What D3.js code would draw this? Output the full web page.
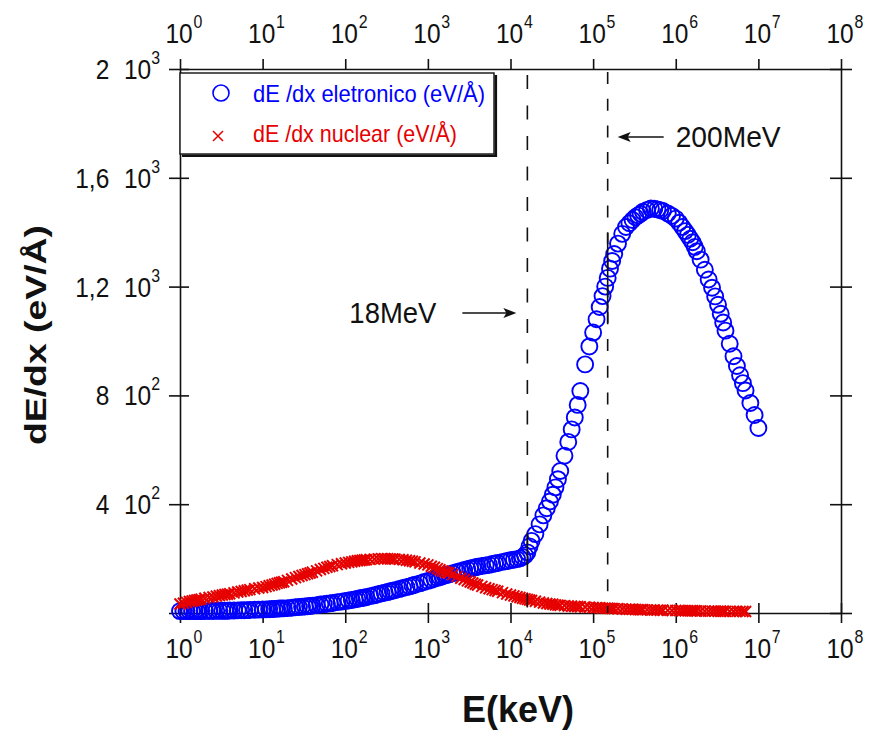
<!DOCTYPE html>
<html>
<head>
<meta charset="utf-8">
<script src="https://cdn.jsdelivr.net/npm/d3@7"></script>
<style>
  html, body { margin: 0; padding: 0; background: #ffffff; }
  svg { display: block; }
  text { font-family: "Liberation Sans", Arial, Helvetica, sans-serif; }
</style>
</head>
<body>
<svg id="chart" width="871" height="734"></svg>
<script>
// ---------------- data ----------------
// energy grid (keV)
const energyKeV = [
  1,1.1,1.2,1.3,1.4,1.5,1.6,1.7,1.8,2,2.25,2.5,2.75,3,3.25,3.5,3.75,4,4.5,5,5.5,6,6.5,7,8,9,
  10,11,12,13,14,15,16,17,18,20,22.5,25,27.5,30,32.5,35,37.5,40,45,50,55,60,65,70,80,90,
  100,110,120,130,140,150,160,170,180,200,225,250,275,300,325,350,375,400,450,500,550,600,650,700,800,900,
  1e3,1.1e3,1.2e3,1.3e3,1.4e3,1.5e3,1.6e3,1.7e3,1.8e3,2e3,2.25e3,2.5e3,2.75e3,3e3,3.25e3,3.5e3,3.75e3,4e3,4.5e3,5e3,5.5e3,6e3,6.5e3,7e3,8e3,9e3,
  1e4,1.1e4,1.2e4,1.3e4,1.4e4,1.5e4,1.6e4,1.7e4,1.8e4,2e4,2.25e4,2.5e4,2.75e4,3e4,3.25e4,3.5e4,3.75e4,4e4,4.5e4,5e4,5.5e4,6e4,6.5e4,7e4,8e4,9e4,
  1e5,1.1e5,1.2e5,1.3e5,1.4e5,1.5e5,1.6e5,1.7e5,1.8e5,2e5,2.25e5,2.5e5,2.75e5,3e5,3.25e5,3.5e5,3.75e5,4e5,4.5e5,5e5,5.5e5,6e5,6.5e5,7e5,8e5,9e5,
  1e6,1.1e6,1.2e6,1.3e6,1.4e6,1.5e6,1.6e6,1.7e6,1.8e6,2e6,2.25e6,2.5e6,2.75e6,3e6,3.25e6,3.5e6,3.75e6,4e6,4.5e6,5e6,5.5e6,6e6,6.5e6,7e6,8e6,9e6,
  1e7
];

// electronic stopping dE/dx (eV/Å)
const dEdxElectronic = [
  7,7,7,7,7,7,7,7,7,7,7.5,7.5,8,8,8,8,8.5,9,9,9.5,10,10,10.5,11,12,12.5,
  13,13.5,14,14.5,15,16,16.5,17,17,18,19.5,21,22,23,24,25,26,27,29,31,32.5,34,35.5,37,40,42,
  44,46,48,50,52,54,55,57,58,62,65,69,72,75,77,80,82,84,88,92,95,98,101,104,109,114,
  118,122,126,129,132,135,138,140,142,146,151,155,158,161,164,166,168,170,173,175,177,180,182,184,188,191,
  194,196,198,201,206,212,223,245,265,290,326,359,385,410,435,462,492,522,578,629,675,719,765,816,914,980,
  1031,1080,1125,1165,1200,1232,1266,1294,1320,1358,1394,1419,1433,1445,1455,1462,1468,1475,1482,1487,1486,1484,1481,1478,1469,1460,
  1450,1435,1419,1404,1390,1376,1363,1346,1330,1299,1262,1226,1196,1164,1133,1100,1068,1038,990,944,908,874,845,818,772,728,
  680
];

// nuclear stopping dE/dx (eV/Å), energies from 1 keV to 7e6 keV
const dEdxNuclear = [
  33,36,39,42,44,46,48,49,51,54,57,59,62,64,66,68,69,71,74,77,79,82,84,86,89,92,
  94,97,100,103,106,109,111,113,115,120,125,130,134,138,141,144,147,150,155,160,164,168,171,174,178,181,
  184,186,188,190,192,193,194,195,196,197,198,199,200,200,200,199,199,198,197,196,194,192,190,188,184,180,
  177,172,168,163,159,155,152,149,147,141,134,128,123,118,114,110,106,103,98,93,89,86,83,80,75,70,
  66,63,60,57,54,52,50,48,46,43,40,37,35,33,32,30,29,28,27,26,25,24,24,23,22,21,
  20,19.5,19,18,18,17.5,17,16.5,16,15.5,15,14,14,13.5,13,12.5,12,12,11.5,11,11,10.5,10,10,9.5,9,
  9,9,8.5,8.5,8,8,8,8,7.5,7.5,7,7,7,7,6.5,6.5,6.5,6,6,6,6,6,5.5,5.5
];

// axis ticks
const xTickValues = [1,1e1,1e2,1e3,1e4,1e5,1e6,1e7,1e8];
const xTickExponents = ["0","1","2","3","4","5","6","7","8"];
const yTickValues = [0,400,800,1200,1600,2000];
const yTickMantissas = ["","4","8","1,2","1,6","2"];
const yTickExponents = ["","2","2","3","3","3"];

// legend & titles
const seriesNames = ["dE /dx eletronico (eV/\u00C5)", "dE /dx nuclear (eV/\u00C5)"];
const yTitle = "dE/dx (eV/\u00C5)";
const xTitle = "E(keV)";

// marker lines (energy in keV), their labels and the level of the arrow (eV/Å)
const markerEnergies = [1.6e4, 1.5e5];
const markerLabels = ["18MeV", "200MeV"];
const markerArrowLevels = [1103, 1750];
const markerSolidFrom = [176, 1066];
const markerSolidTo = [283, 1397];

// ---------------- chart ----------------
const svg = d3.select("#chart");
const BLUE = "#0000ff", RED = "#e60000", INK = "#111111";

const x = d3.scaleLog().domain([1, 1e8]).range([180, 841]);
const y = d3.scaleLinear().domain([0, 2000]).range([613, 69]);
const X0 = x.range()[0], X1 = x.range()[1], Y0 = y.range()[0], Y1 = y.range()[1];

function styleAxis(g) {
  g.select(".domain").attr("stroke", INK).attr("stroke-width", 1.6);
  g.selectAll(".tick line").attr("stroke", INK).attr("stroke-width", 1.6);
  g.selectAll(".tick text").remove();
}

// bottom axis (ticks crossing)
const gB = svg.append("g").attr("transform", `translate(0,${Y0})`)
  .call(d3.axisBottom(x).tickValues(xTickValues).tickSize(10).tickSizeOuter(0).tickFormat(() => ""));
styleAxis(gB);
gB.selectAll(".tick line").attr("y1", -10);

// top axis (outward ticks)
const gT = svg.append("g").attr("transform", `translate(0,${Y1})`)
  .call(d3.axisTop(x).tickValues(xTickValues).tickSize(10).tickSizeOuter(0).tickFormat(() => ""));
styleAxis(gT);

// left axis (ticks crossing)
const gL = svg.append("g").attr("transform", `translate(${X0},0)`)
  .call(d3.axisLeft(y).tickValues(yTickValues).tickSize(11).tickSizeOuter(0).tickFormat(() => ""));
styleAxis(gL);
gL.selectAll(".tick line").attr("x1", 9);

// right axis (ticks crossing)
const gR = svg.append("g").attr("transform", `translate(${X1},0)`)
  .call(d3.axisRight(y).tickValues(yTickValues).tickSize(11).tickSizeOuter(0).tickFormat(() => ""));
styleAxis(gR);
gR.selectAll(".tick line").attr("x1", -11);

// power-of-ten tick labels (narrow glyphs)
const SX = 0.86, FS = 28.5, FSUP = 18.5;
function xPowLabel(px, baseline, exp) {
  const g = svg.append("g").attr("transform", `translate(${px - 1},${baseline}) scale(${SX},1)`);
  const t = g.append("text").attr("x", -0.556 * FS).attr("font-size", FS).attr("fill", INK);
  t.append("tspan").text("10");
  t.append("tspan").attr("dx", 1).attr("dy", -15).attr("font-size", FSUP).text(exp);
}
xTickValues.forEach((v, i) => {
  xPowLabel(x(v), 43, xTickExponents[i]);
  xPowLabel(x(v), 658, xTickExponents[i]);
});

yTickValues.forEach((v, i) => {
  if (!yTickMantissas[i]) return;
  const g = svg.append("g").attr("transform", `translate(160,${y(v) + 10}) scale(${SX},1)`);
  const t = g.append("text").attr("text-anchor", "end").attr("font-size", FS).attr("fill", INK);
  t.append("tspan").text(yTickMantissas[i]);
  t.append("tspan").attr("dx", 17).text("10");
  t.append("tspan").attr("dy", -15).attr("font-size", FSUP).text(yTickExponents[i]);
});

// data: electronic (open circles)
const elec = energyKeV.map((e, i) => ({ e, v: dEdxElectronic[i] }));
const nuc = dEdxNuclear.map((v, i) => ({ e: energyKeV[i], v }));

svg.append("g").selectAll("circle").data(elec).join("circle")
  .attr("cx", d => x(d.e)).attr("cy", d => y(d.v)).attr("r", 8)
  .attr("fill", "none").attr("stroke", BLUE).attr("stroke-width", 1.9);

// data: nuclear (x crosses)
const crossPath = (cx, cy, s) => `M${cx - s},${cy - s}L${cx + s},${cy + s}M${cx - s},${cy + s}L${cx + s},${cy - s}`;
svg.append("g").selectAll("path").data(nuc).join("path")
  .attr("d", d => crossPath(x(d.e), y(d.v), 5.5))
  .attr("fill", "none").attr("stroke", RED).attr("stroke-width", 2);

// marker lines
const dashSpec = [{ arr: "14,16.5", off: 25.5 }, { arr: "12,14.7", off: 24.7 }];
markerEnergies.forEach((E, i) => {
  const xm = x(E);
  svg.append("line").attr("x1", xm).attr("x2", xm).attr("y1", Y1 + 1).attr("y2", Y0)
    .attr("stroke", INK).attr("stroke-width", 1.6)
    .attr("stroke-dasharray", dashSpec[i].arr).attr("stroke-dashoffset", dashSpec[i].off);
  svg.append("line").attr("x1", xm).attr("x2", xm)
    .attr("y1", y(markerSolidTo[i])).attr("y2", y(markerSolidFrom[i]))
    .attr("stroke", INK).attr("stroke-width", 1.6);

  const ay = y(markerArrowLevels[i]);
  if (i === 0) {
    const tip = xm - 11, tail = tip - 54;
    svg.append("line").attr("x1", tail).attr("x2", tip - 6).attr("y1", ay).attr("y2", ay)
      .attr("stroke", INK).attr("stroke-width", 1.4);
    svg.append("path").attr("d", `M${tip},${ay}L${tip - 13},${ay - 5}L${tip - 10},${ay}L${tip - 13},${ay + 5}Z`).attr("fill", INK);
    svg.append("text").attr("x", tail - 26).attr("y", ay + 10).attr("text-anchor", "end")
      .attr("font-size", 29).attr("fill", INK)
      .attr("textLength", 87).attr("lengthAdjust", "spacingAndGlyphs").text(markerLabels[i]);
  } else {
    const tip = xm + 10, tail = tip + 46;
    svg.append("line").attr("x1", tip + 6).attr("x2", tail).attr("y1", ay).attr("y2", ay)
      .attr("stroke", INK).attr("stroke-width", 1.4);
    svg.append("path").attr("d", `M${tip},${ay}L${tip + 13},${ay - 5}L${tip + 10},${ay}L${tip + 13},${ay + 5}Z`).attr("fill", INK);
    svg.append("text").attr("x", tail + 12).attr("y", ay + 10)
      .attr("font-size", 30).attr("fill", INK)
      .attr("textLength", 105).attr("lengthAdjust", "spacingAndGlyphs").text(markerLabels[i]);
  }
});

// legend
const lg = svg.append("g");
lg.append("line").attr("x1", 182).attr("x2", 497).attr("y1", 155.8).attr("y2", 155.8)
  .attr("stroke", INK).attr("stroke-width", 2.6);
lg.append("line").attr("x1", 495.8).attr("x2", 495.8).attr("y1", 75).attr("y2", 157)
  .attr("stroke", INK).attr("stroke-width", 2.6);
lg.append("rect").attr("x", 180).attr("y", 73).attr("width", 314).attr("height", 81)
  .attr("fill", "#ffffff").attr("stroke", INK).attr("stroke-width", 1.4);
lg.append("circle").attr("cx", 221).attr("cy", 93).attr("r", 8)
  .attr("fill", "none").attr("stroke", BLUE).attr("stroke-width", 1.6);
lg.append("path").attr("d", crossPath(218, 136, 5)).attr("stroke", RED).attr("stroke-width", 1.5);
lg.append("text").attr("x", 253).attr("y", 102).attr("font-size", 24).attr("fill", BLUE)
  .attr("textLength", 232).attr("lengthAdjust", "spacingAndGlyphs").text(seriesNames[0]);
lg.append("text").attr("x", 253).attr("y", 142).attr("font-size", 24).attr("fill", RED)
  .attr("textLength", 204).attr("lengthAdjust", "spacingAndGlyphs").text(seriesNames[1]);

// axis titles
svg.append("text").attr("transform", "translate(46,335) rotate(-90)")
  .attr("text-anchor", "middle").attr("font-size", 30).attr("font-weight", "bold").attr("fill", INK)
  .attr("textLength", 220).attr("lengthAdjust", "spacingAndGlyphs").text(yTitle);
svg.append("text").attr("x", 518).attr("y", 722)
  .attr("text-anchor", "middle").attr("font-size", 37).attr("font-weight", "bold").attr("fill", INK)
  .attr("textLength", 112).attr("lengthAdjust", "spacingAndGlyphs").text(xTitle);
</script>
</body>
</html>
